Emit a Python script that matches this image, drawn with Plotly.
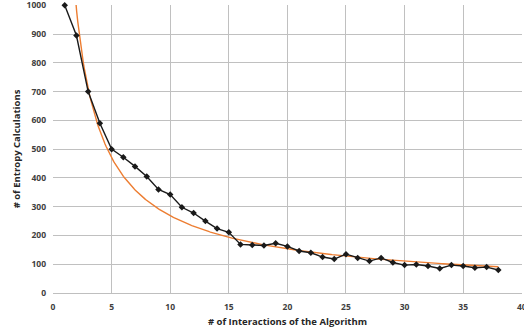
import numpy as np
import plotly.graph_objects as go

iterations = list(range(1, 39))
entropy_calcs = [1000, 895, 700, 590, 500, 472, 440, 405, 360, 342,
                 298, 278, 250, 224, 211, 169, 167, 165, 173, 162,
                 146, 140, 125, 118, 135, 122, 111, 122, 106, 97,
                 99, 94, 85, 97, 94, 88, 90, 80]

x_ticks = [0, 5, 10, 15, 20, 25, 30, 35, 40]
y_ticks = [0, 100, 200, 300, 400, 500, 600, 700, 800, 900, 1000]

# power trendline (least squares in log-log space, as in a spreadsheet trendline)
lx = np.log(np.array(iterations, dtype=float))
ly = np.log(np.array(entropy_calcs, dtype=float))
b, ln_a = np.polyfit(lx, ly, 1)
tx = np.linspace(1, 38, 400)
ty = np.exp(ln_a) * tx ** b

fig = go.Figure()
fig.add_trace(go.Scatter(x=tx, y=ty, mode="lines",
                         line=dict(color="#ED7D31", width=1.4),
                         hoverinfo="skip", showlegend=False, cliponaxis=True))
fig.add_trace(go.Scatter(x=iterations, y=entropy_calcs, mode="lines+markers",
                         line=dict(color="#1a1a1a", width=1.4),
                         marker=dict(symbol="diamond", size=5, color="#1a1a1a"),
                         showlegend=False, cliponaxis=False))

font = "'Open Sans', sans-serif"
tickf = dict(family=font, size=8.5, color="#404040", weight="bold")
titlef = dict(family=font, size=9.5, color="#262626", weight="bold")
fig.update_layout(
    width=524, height=333,
    margin=dict(l=53, r=2, t=5, b=40),
    paper_bgcolor="white", plot_bgcolor="white",
    font=dict(family=font, color="#404040", size=9),
    xaxis=dict(range=[0, 40.02], tickvals=x_ticks, ticktext=[str(v) for v in x_ticks],
               showgrid=True, gridcolor="#c0c0c0", gridwidth=1,
               showline=True, linecolor="#bfbfbf", linewidth=1, automargin=False,
               zeroline=False, ticks="", ticklabeloverflow="allow", tickfont=tickf,
               ticklabelstandoff=6,
               title=dict(text="# of Interactions of the Algorithm", standoff=7, font=titlef)),
    yaxis=dict(range=[0, 1001], tickvals=y_ticks, ticktext=[str(v) for v in y_ticks],
               showgrid=True, gridcolor="#c0c0c0", gridwidth=1, automargin=False,
               showline=False, zeroline=False, ticks="", ticklabeloverflow="allow",
               tickfont=tickf, ticklabelstandoff=6,
               title=dict(text="# of Entropy Calculations", standoff=4, font=titlef)),
)
fig.write_html("out.html", config={"displayModeBar": False},
               post_script="document.body.style.margin='0px';document.body.style.overflow='hidden';")
